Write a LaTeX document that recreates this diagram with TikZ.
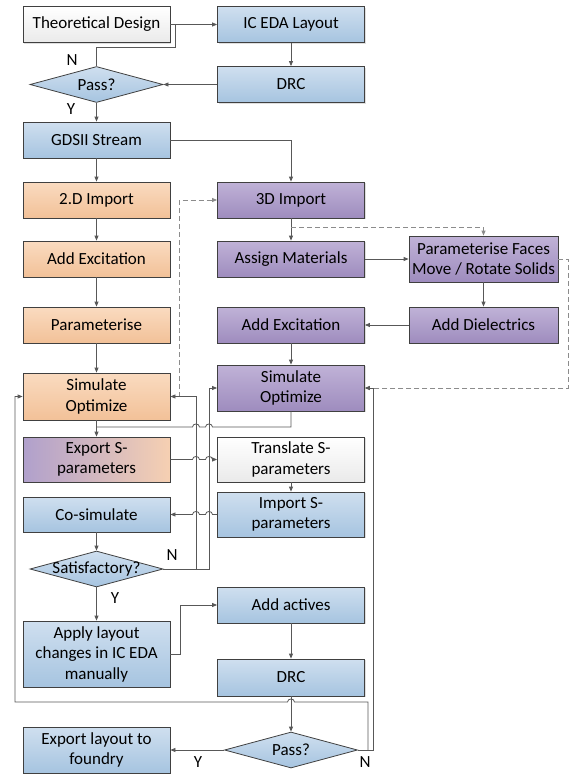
\documentclass[tikz,border=0pt]{standalone}
\usepackage{fontspec}
\setmainfont{Carlito}
\usetikzlibrary{arrows.meta,shapes.geometric,shadows}
\definecolor{bluetop}{RGB}{207,223,239}
\definecolor{bluebot}{RGB}{166,196,224}
\definecolor{ortop}{RGB}{250,219,192}
\definecolor{orbot}{RGB}{242,193,152}
\definecolor{putop}{RGB}{192,178,215}
\definecolor{pubot}{RGB}{158,140,190}
\definecolor{whtop}{RGB}{255,255,255}
\definecolor{whbot}{RGB}{234,234,234}
\definecolor{exleft}{RGB}{176,160,204}
\definecolor{exright}{RGB}{246,208,178}
\definecolor{edgegray}{RGB}{64,64,64}
\definecolor{conngray}{RGB}{88,88,88}
\definecolor{dashgray}{RGB}{140,140,140}
\begin{document}
\begin{tikzpicture}[x=1pt,y=-1pt,
  base/.style={draw=edgegray, line width=0.8pt, inner sep=0pt, align=center,
    font=\fontsize{17}{20.5}\selectfont, minimum width=147pt, minimum height=36pt,
    drop shadow={shadow xshift=1.2pt,shadow yshift=-1.2pt,opacity=0.25}},
  bluebox/.style={base, top color=bluetop, bottom color=bluebot},
  orbox/.style={base, top color=ortop, bottom color=orbot},
  pubox/.style={base, top color=putop, bottom color=pubot},
  whbox/.style={base, top color=whtop, bottom color=whbot},
  exbox/.style={base, left color=exleft, right color=exright},
  dia/.style={diamond, draw=edgegray, line width=0.8pt, inner sep=0pt,
    minimum width=133pt, minimum height=36pt, top color=bluetop, bottom color=bluebot},
  lbl/.style={font=\fontsize{17}{20}\selectfont, inner sep=0pt},
  line/.style={draw=conngray, line width=0.8pt},
  conn/.style={line, -{Triangle[length=5pt,width=4pt]}},
  dconn/.style={draw=dashgray, line width=0.9pt, dash pattern=on 5pt off 3pt,
    -{Triangle[length=5pt,width=4pt]}}
]
\useasboundingbox (0,0) rectangle (573,776);

% nodes
\node[whbox] (td) at (96.5,24.5) {Theoretical Design};
\node[bluebox] (ic) at (291,24.5) {IC EDA Layout};
\node[bluebox] (drc1) at (291,84.5) {DRC};
\node[dia, label={[lbl]center:Pass?}] (pass1) at (96.5,84.5) {};
\node[bluebox] (gds) at (96.5,140) {GDSII Stream};
\node[orbox] (imp2d) at (96.5,200) {2.D Import};
\node[pubox] (imp3d) at (291,200) {3D Import};
\node[orbox] (exc2d) at (96.5,259) {Add Excitation};
\node[pubox] (assign) at (291,259) {Assign Materials};
\node[pubox, minimum width=149pt, minimum height=46pt] (pface) at (483.5,259) {Parameterise Faces\\Move / Rotate Solids};
\node[pubox, minimum width=149pt] (diel) at (483.5,325) {Add Dielectrics};
\node[pubox] (exc3d) at (291,325) {Add Excitation};
\node[orbox] (param) at (96.5,325) {Parameterise};
\node[orbox, minimum height=47pt] (sim2d) at (96.5,396.5) {Simulate\\Optimize};
\node[pubox, minimum height=46pt] (sim3d) at (291,388) {Simulate\\Optimize};
\node[exbox, minimum height=45pt] (exps) at (96.5,459.5) {Export S-\\parameters};
\node[whbox, minimum height=45pt] (trs) at (291,459.5) {Translate S-\\parameters};
\node[bluebox, minimum height=45pt] (ims) at (291,514.5) {Import S-\\parameters};
\node[bluebox, minimum height=35pt] (cosim) at (96.5,514.5) {Co-simulate};
\node[dia, label={[lbl]center:Satisfactory?}] (sat) at (96.5,569) {};
\node[bluebox, minimum height=66pt] (apply) at (96.5,654) {Apply layout\\changes in IC EDA\\manually};
\node[bluebox] (act) at (291,605) {Add actives};
\node[bluebox, minimum height=37pt] (drc2) at (291,677.5) {DRC};
\node[dia, label={[lbl]center:Pass?}] (pass2) at (291,750) {};
\node[bluebox, minimum height=46pt] (exl) at (96.5,750) {Export layout to\\foundry};

% labels
\node[lbl] (n1) at (72,60) {N};
\node[lbl] (y1) at (71,109) {Y};
\node[lbl] (n2) at (172,555) {N};
\node[lbl] (y2) at (115,598) {Y};
\node[lbl] (y3) at (198,762) {Y};
\node[lbl] (n3) at (365,762) {N};

% coordinates
\coordinate (j1) at (175,24.5);
\coordinate (d1) at (291,227);
\coordinate (d2) at (179,396.5);
\coordinate (s1) at (196,569);
\coordinate (s2) at (209,569);
\coordinate (p1) at (373,750);
\coordinate (p2) at (368,750);
\coordinate (m1) at (96.5,427);

% top part
\draw[conn] (td.east) -- (ic.west);
\draw[line] (pass1.north) -- ++(0,-19) -| (j1);
\draw[conn] (ic) -- (drc1);
\draw[conn] (drc1.west) -- (pass1.east);
\draw[conn] (pass1.south) -- (gds.north);
\draw[conn] (gds.east) -| (imp3d.north);
\draw[conn] (gds) -- (imp2d);
\draw[conn] (imp2d) -- (exc2d);
\draw[conn] (exc2d) -- (param);
\draw[conn] (param) -- (sim2d);
\draw[conn] (imp3d) -- (assign);
\draw[dconn] (d1) -| (pface.north);
\draw[conn] (assign.east) -- (pface.west);
\draw[conn] (pface) -- (diel);
\draw[conn] (diel.west) -- (exc3d.east);
\draw[conn] (exc3d) -- (sim3d);
\draw[dconn] (pface.east) -- ++(10,0) |- (sim3d.east);
\draw[dconn] (d2) |- (imp3d.west);

% middle
\draw[conn] (sim2d) -- (exps);
\draw[line] (sim3d.south) |- (212.5,427) .. controls (212.5,423) and (205.5,423) .. (205.5,427)
  -- (199.5,427) .. controls (199.5,423) and (192.5,423) .. (192.5,427) -- (m1);
\draw[conn] (exps.east) -- (192.5,459.5) .. controls (192.5,455.5) and (199.5,455.5) .. (199.5,459.5)
  -- (205.5,459.5) .. controls (205.5,455.5) and (212.5,455.5) .. (212.5,459.5) -- (trs.west);
\draw[conn] (trs) -- (ims);
\draw[conn] (ims.west) -- (212.5,514.5) .. controls (212.5,510.5) and (205.5,510.5) .. (205.5,514.5)
  -- (199.5,514.5) .. controls (199.5,510.5) and (192.5,510.5) .. (192.5,514.5) -- (cosim.east);
\draw[conn] (cosim) -- (sat);
\draw[conn] (sat.east) -- (s2) |- (sim3d.west);
\draw[conn] (s1) |- (sim2d.east);

% bottom
\draw[conn] (sat) -- (apply);
\draw[conn] (apply.east) -- ++(10,0) |- (act.west);
\draw[conn] (act) -- (drc2);
\draw[conn] (drc2) -- (pass2);
\draw[conn] (pass2.west) -- (exl.east);
\draw[conn] (pass2.east) -- (p1) |- (sim3d.east);
\draw[conn] (p2) -- (368,702) -- (294.5,702) .. controls (294.5,698) and (287.5,698) .. (287.5,702)
  -- (15,702) |- (sim2d.west);
\end{tikzpicture}
\end{document}
